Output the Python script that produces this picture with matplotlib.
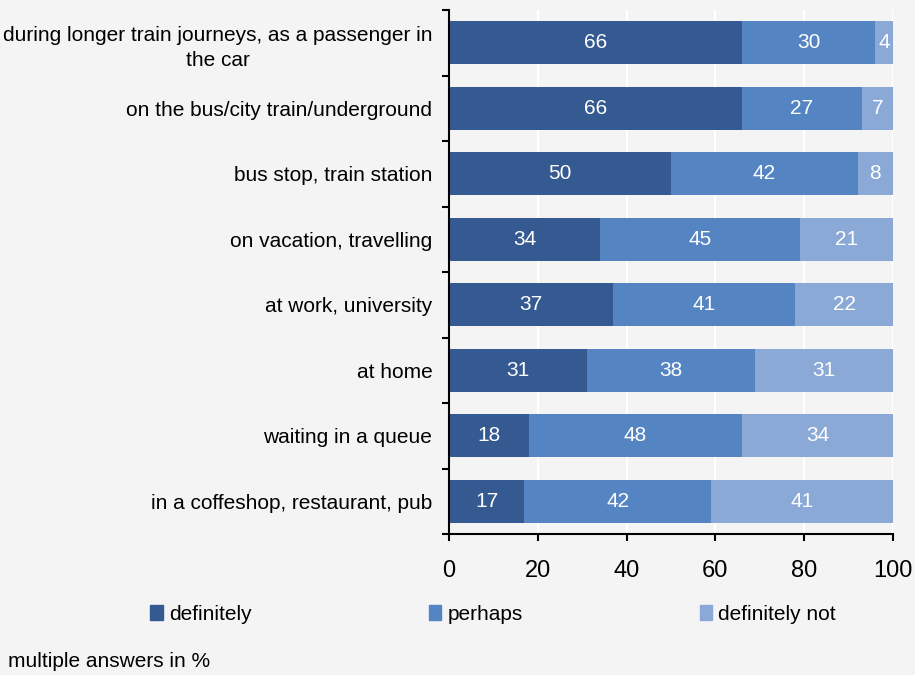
import numpy as np
import matplotlib.pyplot as plt
from matplotlib.patches import Patch

plt.rcParams['font.family'] = ['Liberation Sans', 'DejaVu Sans']

places = ["during longer train journeys, as a passenger in\nthe car",
          "on the bus/city train/underground",
          "bus stop, train station",
          "on vacation, travelling",
          "at work, university",
          "at home",
          "waiting in a queue",
          "in a coffeshop, restaurant, pub"]
definitely = [66, 66, 50, 34, 37, 31, 18, 17]
perhaps = [30, 27, 42, 45, 41, 38, 48, 42]
definitely_not = [4, 7, 8, 21, 22, 31, 34, 41]
series_names = ["definitely", "perhaps", "definitely not"]
colors = ["#355a91", "#5584c3", "#8aa9d6"]
bg = "#f4f4f4"

fig = plt.figure(figsize=(9.15, 6.75), dpi=100, facecolor=bg)
ax = fig.add_axes([0.4907, 0.2089, 0.4853, 0.7761], facecolor=bg)

y = np.arange(len(places))
left = np.zeros(len(places))
for vals, col in zip([definitely, perhaps, definitely_not], colors):
    vals = np.array(vals, dtype=float)
    ax.barh(y, vals, left=left, height=0.66, color=col, zorder=2)
    for yi, l, v in zip(y, left, vals):
        ax.text(l + v / 2, yi, f"{v:.0f}", ha='center', va='center',
                color='white', fontsize=15, zorder=3)
    left += vals

ax.set_xlim(0, 100)
ax.set_ylim(len(places) - 0.5, -0.5)
ax.set_xticks(range(0, 101, 20))
ax.tick_params(axis='x', labelsize=17, length=5, width=1.5, pad=13.5)
ax.set_yticks(y)
ax.set_yticklabels(places, fontsize=15, ha='right', multialignment='center',
                   linespacing=1.4)
ax.tick_params(axis='y', which='major', length=0, pad=12)
ax.set_yticks(np.arange(-0.5, len(places)), minor=True)
ax.tick_params(axis='y', which='minor', length=5, width=1.5)
ax.grid(axis='x', color='white', linewidth=1.5, zorder=0)
ax.set_axisbelow(True)
for s in ['top', 'right']:
    ax.spines[s].set_visible(False)
for s in ['left', 'bottom']:
    ax.spines[s].set_linewidth(1.5)

handles = [Patch(color=c, label=n) for c, n in zip(colors, series_names)]
fig.legend(handles=handles, loc='center left', bbox_to_anchor=(0.164, 0.09),
           ncol=3, frameon=False, fontsize=15, handlelength=0.6,
           handleheight=0.7, handletextpad=0.3, columnspacing=8.5,
           borderaxespad=0, borderpad=0)

fig.text(0.009, 0.006, "multiple answers in %", fontsize=15, ha='left', va='bottom')

fig.savefig("out.png", dpi=100, facecolor=bg)
